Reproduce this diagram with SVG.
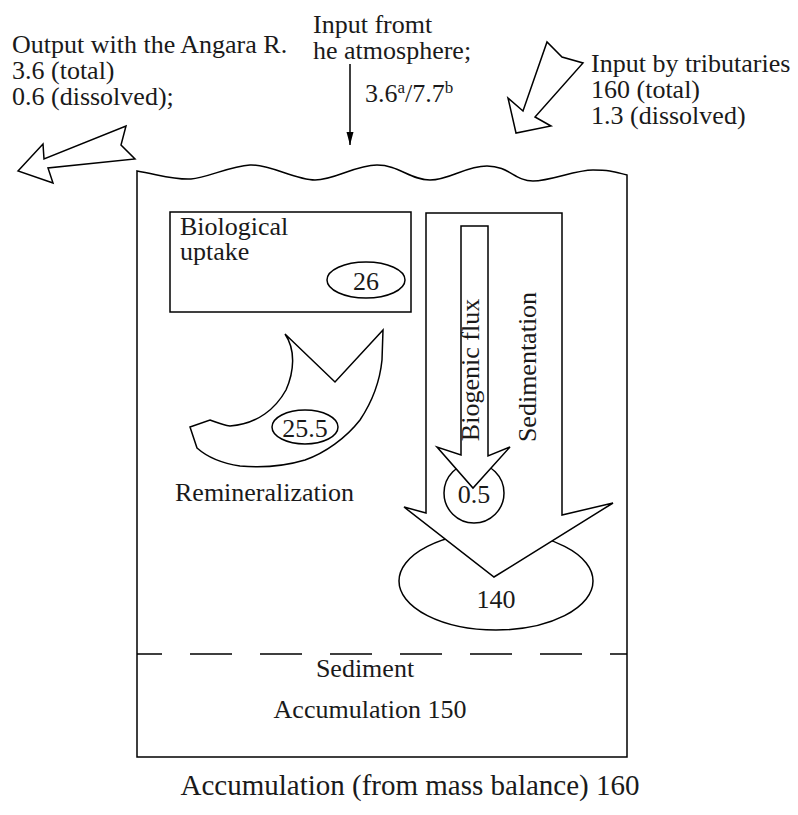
<svg xmlns="http://www.w3.org/2000/svg" width="798" height="815" viewBox="0 0 798 815">
<defs>
<style>
text{font-family:"Liberation Serif","Times New Roman",serif;font-size:26px;fill:#1a1a1a}
.s{fill:#fff;stroke:#000;stroke-width:1.5;stroke-linejoin:miter}
.l{fill:none;stroke:#000;stroke-width:1.5}
.c{text-anchor:middle}
.sup{font-size:17px}
.big{font-size:29px}
</style>
<marker id="ah" markerWidth="14" markerHeight="8" refX="13" refY="4" orient="auto" markerUnits="userSpaceOnUse">
<path d="M0,0.5 L13,4 L0,7.5 Z" fill="#000"/>
</marker>
</defs>
<rect width="798" height="815" fill="#fff"/>

<g id="lake">
<path class="l" d="M137,757 L137,171 C160,175 175,180 191,179 S230,166 250,165 S295,180 315,180 S355,165 377,165 S410,180 430,180 S465,166 487,166 S515,181 533,181 S575,170 593,170 S615,172 627,175 L627,757 Z"/>
<line x1="137" y1="654" x2="627" y2="654" stroke="#000" stroke-width="1.5" stroke-dasharray="42 28" stroke-dashoffset="17"/>
</g>

<g id="output">
<polygon class="s" points="18,171 43,144 44,159 126,126 121,145 135,159 48,168 53,183"/>
<text x="12" y="53">Output with the Angara R.</text>
<text x="12" y="79">3.6 (total)</text>
<text x="12" y="105">0.6 (dissolved);</text>
</g>

<g id="atmosphere">
<text x="313" y="33">Input fromt</text>
<text x="313" y="59">he atmosphere;</text>
<text x="365" y="102">3.6<tspan class="sup" dy="-9">a</tspan><tspan dy="9">/7.7</tspan><tspan class="sup" dy="-9">b</tspan></text>
</g>

<g id="tributaries">
<polygon class="s" points="516,133 508,98 523,111 547,42 562,57 583,63 535,117 551,126"/>
<text x="591" y="72">Input by tributaries</text>
<text x="591" y="98">160 (total)</text>
<text x="591" y="124">1.3 (dissolved)</text>
</g>

<g id="uptake">
<rect class="s" x="170" y="212" width="241" height="100"/>
<text x="180" y="235">Biological</text>
<text x="180" y="260">uptake</text>
<ellipse class="s" cx="366" cy="280" rx="39" ry="18"/>
<text class="c" x="366" y="290">26</text>
</g>

<g id="remineralization">
<path class="s" d="M285,334 C296,350 294,372 286,390 C276,408 258,424 230,426 C222,425 216,422 210,420 L190,427 L197,448 C206,456 220,463 240,466 C262,468 285,466 305,460 C325,453 346,438 360,420 C372,402 380,380 382,360 L383,330 L335,382 Z"/>
<ellipse class="s" cx="305" cy="427" rx="33" ry="17"/>
<text class="c" x="305" y="437">25.5</text>
<text x="175" y="501">Remineralization</text>
</g>

<g id="sedimentation">
<ellipse class="s" cx="496" cy="581" rx="97" ry="49"/>
<text class="c" x="496" y="608">140</text>
<polygon class="s" points="426,213 562,213 562,515 613,503 494,577 404,507 426,513"/>
<text transform="translate(536,367) rotate(-90)" class="c">Sedimentation</text>
</g>

<g id="biogenic">
<circle class="s" cx="474" cy="493" r="30"/>
<polygon class="s" points="461,226 488,226 488,456 510,447 473,488 437,447 461,455"/>
<text transform="translate(479,370) rotate(-90)" class="c">Biogenic flux</text>
<text class="c" x="474" y="503">0.5</text>
</g>

<g id="sediment">
<text class="c" x="365" y="677">Sediment</text>
<text class="c" x="370" y="718">Accumulation 150</text>
<text class="c big" x="410" y="795">Accumulation (from mass balance) 160</text>
</g>

<g id="connectors">
<line x1="350" y1="64" x2="350" y2="145" stroke="#000" stroke-width="1.5" marker-end="url(#ah)"/>
</g>
</svg>
